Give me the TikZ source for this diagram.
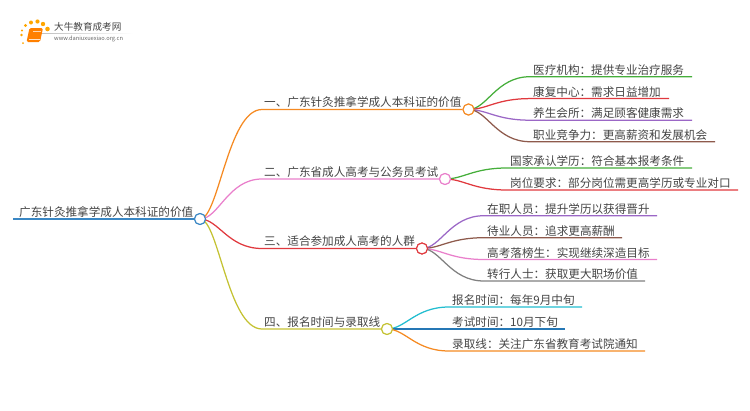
\documentclass[tikz,border=0pt]{standalone}
\usepackage{fontspec}
\setmainfont{Noto Sans CJK SC}
\usetikzlibrary{calc}
\definecolor{cblue}{HTML}{3A87C4}
\definecolor{corange}{HTML}{F58A22}
\definecolor{cpink}{HTML}{E97FCB}
\definecolor{cred}{HTML}{E0393E}
\definecolor{colive}{HTML}{C4C232}
\definecolor{cgreen}{HTML}{45AE3A}
\definecolor{cpurple}{HTML}{9B67C6}
\definecolor{cbrown}{HTML}{8E5A4C}
\definecolor{cgray}{HTML}{808080}
\definecolor{ccyan}{HTML}{22BDD0}
\definecolor{cdblue}{HTML}{2577B5}
\definecolor{ctext}{HTML}{444444}
\tikzset{
  x=1pt,y=-1pt,
  lbl/.style={anchor=south west,inner sep=0pt,text=ctext,font=\fontsize{11.6pt}{13pt}\selectfont,yshift=1.3pt},
  hub/.style={circle,draw=#1,fill=white,line width=1.1pt,minimum size=11pt,inner sep=0pt},
  conn/.style={draw=#1,line width=1.25pt},
  dot/.style={fill=#1,draw=none},
}
\newcommand{\branch}[6]{%
  \coordinate (#6a) at (#3,#4);
  \coordinate (#6b) at (#5);
  \path[conn=#2] (#1.center) .. controls ($(#1.center)!0.3!(#6a |- #1.center)$) and ($(#6a)!0.55!(#6a -| #1.center)$) .. (#6a) -- (#6b |- #6a);
}
\begin{document}
\begin{tikzpicture}
\useasboundingbox (0,0) rectangle (750,410);
% logo
\foreach \px/\py/\r in {23/43/1.0,21.5/35/1.3,25.5/25.5/1.6,31/22.5/2,37.5/21.5/2.1,43/24/2.2,47.5/29/2.3,22/30.5/1.2}{
  \fill[dot=orange!70!yellow] (\px,\py) circle[radius=\r];
}
\fill[orange,rounded corners=1.5pt] (29.5,28) -- (43,28) -- (40,42) -- (26.5,42) -- cycle;
\draw[white!80!orange,line width=.6pt] (28.5,39.5) -- (40,39.5);
\draw[white!70!orange,line width=.5pt] (33,31) -- (41,31);
\node[anchor=west,inner sep=0pt,text=ctext,font=\fontsize{9.6pt}{10pt}\selectfont] (logo) at (54,27) {大牛教育成考网};
\shade[left color=black!25,right color=white] (42,33) rectangle (133,33.6);
\node[anchor=west,inner sep=0pt,text=black!60,font=\fontsize{5.7pt}{7pt}\selectfont] (url) at (54,38.5) {www.daniuxuexiao.org.cn};
% root
\node[hub=cblue] (root) at (200,219) {};
\node[hub=corange] (b1) at (468.5,109.5) {};
\node[hub=cpink] (b2) at (445,179) {};
\node[hub=cred] (b3) at (422,248.5) {};
\node[hub=colive] (b4) at (387,329) {};
\coordinate (rs) at (13,219);
\draw[conn=cblue] (rs) -- (root.west);
\node[lbl] (rt) at (19,219) {广东针灸推拿学成人本科证的价值};
% level 1
\branch{root}{corange}{262}{109.5}{b1.west}{l1}
\branch{root}{cpink}{262}{179}{b2.west}{l2}
\branch{root}{cred}{262}{248.5}{b3.west}{l3}
\branch{root}{colive}{262}{329}{b4.west}{l4}
\node[lbl] (t1) at (264,109.5) {一、广东针灸推拿学成人本科证的价值};
\node[lbl] (t2) at (264,179) {二、广东省成人高考与公务员考试};
\node[lbl] (t3) at (264,248.5) {三、适合参加成人高考的人群};
\node[lbl] (t4) at (264,329) {四、报名时间与录取线};
% b1
\branch{b1}{cgreen}{530}{76.7}{692,76.7}{a1}
\branch{b1}{cred}{530}{98.6}{669,98.6}{a2}
\branch{b1}{cpurple}{530}{120.2}{692,120.2}{a3}
\branch{b1}{cbrown}{530}{141.7}{715,141.7}{a4}
\node[lbl] (ta1) at (533,76.7) {医疗机构：提供专业治疗服务};
\node[lbl] (ta2) at (533,98.6) {康复中心：需求日益增加};
\node[lbl] (ta3) at (533,120.2) {养生会所：满足顾客健康需求};
\node[lbl] (ta4) at (533,141.7) {职业竞争力：更高薪资和发展机会};
% b2
\branch{b2}{cgreen}{507}{168}{692,168}{d1}
\branch{b2}{cred}{507}{190}{738,190}{d2}
\node[lbl] (td1) at (510,168) {国家承认学历：符合基本报考条件};
\node[lbl] (td2) at (510,190) {岗位要求：部分岗位需更高学历或专业对口};
% b3
\branch{b3}{cpurple}{484}{215.7}{657,215.7}{e1}
\branch{b3}{cbrown}{484}{237.7}{622,237.7}{e2}
\branch{b3}{cpink}{484}{259.5}{657,259.5}{e3}
\branch{b3}{cgray}{484}{281}{645,281}{e4}
\node[lbl] (te1) at (487,215.7) {在职人员：提升学历以获得晋升};
\node[lbl] (te2) at (487,237.7) {待业人员：追求更高薪酬};
\node[lbl] (te3) at (487,259.5) {高考落榜生：实现继续深造目标};
\node[lbl] (te4) at (487,281) {转行人士：获取更大职场价值};
% b4
\branch{b4}{ccyan}{449}{307}{582,307}{f1}
\branch{b4}{cdblue}{449}{329}{565,329}{f2}
\branch{b4}{corange}{449}{351}{645,351}{f3}
\node[lbl] (tf1) at (452,307) {报名时间：每年9月中旬};
\node[lbl] (tf2) at (452,329) {考试时间：10月下旬};
\node[lbl] (tf3) at (452,351) {录取线：关注广东省教育考试院通知};
% hubs on top
\foreach \n/\c in {root/cblue,b1/corange,b2/cpink,b3/cred,b4/colive}{\node[hub=\c] at (\n) {};}
\end{tikzpicture}
\end{document}
